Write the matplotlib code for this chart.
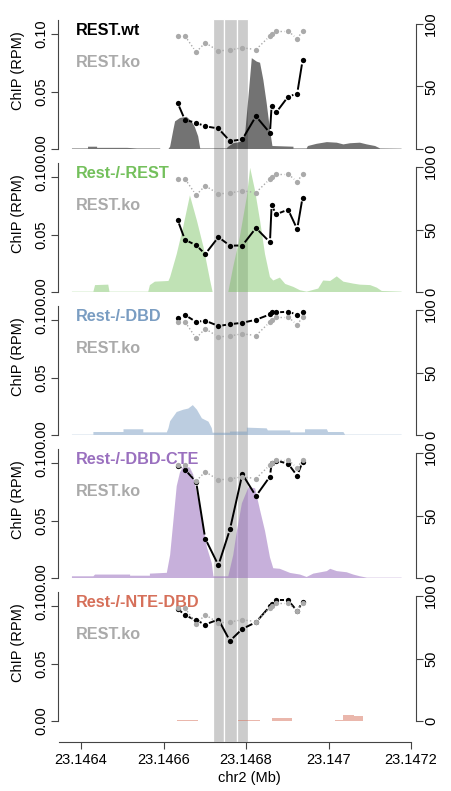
import numpy as np
import matplotlib
matplotlib.use('Agg')
from matplotlib import pyplot as plt

plt.rcParams['font.family'] = ['Liberation Sans', 'DejaVu Sans']

# CpG positions (Mb) and methylation (%) per sample
cpg_pos = [23.146634, 23.146652, 23.146679, 23.146701, 23.146733, 23.146761, 23.146791,
           23.146824, 23.146858, 23.146862, 23.146873, 23.146902, 23.146924, 23.146937]
meth_ko = [90.5, 90.5, 77.5, 85, 78.5, 79.2, 81, 79.5, 90.5, 92, 94.5, 94.5, 88, 94.5]
meth_wt = [37, 23.2, 21, 18.2, 16.4, 6.3, 7.7, 26.2, 12.8, 34.6, 29.2, 41.9, 44.3, 70.8]
meth_rest = [57.8, 41.7, 37.5, 30.3, 43.9, 37.1, 37.2, 51.2, 39.8, 69.5, 62.2, 65.9, 50.3, 75.6]
meth_dbd = [93.8, 96, 90.5, 91.5, 87.2, 88.6, 89.8, 92.2, 96.5, 98.2, 98.1, 98.6, 96.4, 98.1]
meth_dbd_cte = [90, 86.6, 77, 31.6, 10.2, 38.9, 83.1, 65.5, 81.2, 92, 94, 91.4, 81.8, 93]
meth_nte_dbd = [90, 84.6, 80.6, 77.2, 81.2, 64.1, 73.7, 79, 91.8, 93.4, 96.6, 96.6, 88, 95.2]

# highlighted CpG windows (Mb)
band_edges = [23.146719, 23.146747, 23.146778, 23.146804]

# ChIP coverage (bp, RPM)
chip_wt_x = [23146378, 23146417, 23146417, 23146439, 23146439, 23146512, 23146536, 23146592,
             23146592, 23146612, 23146616, 23146624, 23146628, 23146640, 23146656, 23146668,
             23146676, 23146684, 23146689, 23146753, 23146757, 23146769, 23146790, 23146798,
             23146806, 23146814, 23146826, 23146834, 23146842, 23146850, 23146858, 23146864,
             23146915, 23146915, 23146947, 23146950, 23146971, 23146996, 23147020, 23147036,
             23147052, 23147076, 23147093, 23147113, 23147125, 23147177]
chip_wt_y = [0.0005, 0.0005, 0.002, 0.002, 0.001, 0.001, 0.0005, 0.0005,
             0, 0, 0.002, 0.017, 0.024, 0.027, 0.028, 0.024,
             0.019, 0.011, 0.0005, 0.0005, 0.002, 0.005, 0.0064, 0.014,
             0.046, 0.079, 0.076, 0.075, 0.06, 0.040, 0.017, 0.0026,
             0.002, 0.0005, 0.0005, 0.0026, 0.0045, 0.006, 0.0055, 0.004,
             0.005, 0.0055, 0.004, 0.0026, 0.0005, 0.0003]

chip_rest_x = [23146378, 23146430, 23146434, 23146466, 23146469, 23146563, 23146567, 23146579,
               23146612, 23146616, 23146632, 23146648, 23146664, 23146681, 23146697, 23146713,
               23146719, 23146757, 23146769, 23146785, 23146802, 23146810, 23146822, 23146834,
               23146846, 23146858, 23146866, 23146882, 23146895, 23146915, 23146931, 23146947,
               23146975, 23146987, 23147004, 23147020, 23147036, 23147060, 23147076, 23147101,
               23147117, 23147129, 23147177]
chip_rest_y = [0.0003, 0.0003, 0.006, 0.0064, 0.0003, 0.0003, 0.006, 0.009,
               0.0096, 0.013, 0.033, 0.057, 0.084, 0.062, 0.039, 0.010,
               0, 0, 0.022, 0.048, 0.083, 0.108, 0.088, 0.062,
               0.033, 0.013, 0.010, 0.0125, 0.007, 0.0044, 0.0015, 0.0003,
               0.003, 0.010, 0.0096, 0.0136, 0.009, 0.0073, 0.0064, 0.006,
               0.0038, 0.0009, 0.0003]

chip_dbd_x = [23146378, 23146430, 23146430, 23146503, 23146503, 23146551, 23146551, 23146608,
              23146612, 23146616, 23146632, 23146648, 23146660, 23146671, 23146681, 23146693,
              23146709, 23146717, 23146719, 23146761, 23146761, 23146802, 23146802, 23146850,
              23146853, 23146907, 23146907, 23146943, 23146943, 23146996, 23146999, 23147036,
              23147040, 23147177]
chip_dbd_y = [0.0003, 0.0003, 0.0026, 0.0026, 0.005, 0.005, 0.0023, 0.0023,
              0.006, 0.012, 0.020, 0.022, 0.023, 0.026, 0.022, 0.0145,
              0.0116, 0.006, 0.002, 0.002, 0.003, 0.003, 0.0064, 0.0058,
              0.004, 0.004, 0.0023, 0.0023, 0.005, 0.005, 0.0026, 0.0026,
              0.0003, 0.0003]

chip_dbd_cte_x = [23146378, 23146430, 23146434, 23146519, 23146519, 23146567, 23146567, 23146608,
                  23146616, 23146624, 23146632, 23146640, 23146648, 23146664, 23146672, 23146676,
                  23146693, 23146705, 23146717, 23146721, 23146757, 23146769, 23146777, 23146790,
                  23146806, 23146822, 23146834, 23146846, 23146858, 23146866, 23146882, 23146907,
                  23146931, 23146947, 23146963, 23146996, 23147004, 23147020, 23147044, 23147060,
                  23147076, 23147093, 23147177]
chip_dbd_cte_y = [0.0015, 0.0015, 0.003, 0.003, 0.002, 0.002, 0.0038, 0.0045,
                  0.02, 0.05, 0.08, 0.092, 0.097, 0.096, 0.09, 0.082,
                  0.053, 0.027, 0.0128, 0.0015, 0.0015, 0.02, 0.039, 0.065,
                  0.079, 0.078, 0.059, 0.041, 0.018, 0.0085, 0.008, 0.0044,
                  0.003, 0.0009, 0.0038, 0.006, 0.008, 0.006, 0.005, 0.003,
                  0.0015, 0.0003, 0.0003]

chip_nte_dbd_x = [23146378, 23146632, 23146632, 23146684, 23146684, 23146781, 23146781, 23146834,
                  23146834, 23146862, 23146862, 23146912, 23146912, 23147016, 23147016, 23147034,
                  23147034, 23147062, 23147062, 23147084, 23147084, 23147177]
chip_nte_dbd_y = [0.0002, 0.0002, 0.001, 0.001, 0.0002, 0.0002, 0.0008, 0.0008,
                  0.0002, 0.0002, 0.0023, 0.0023, 0.0002, 0.0002, 0.0006, 0.0006,
                  0.0052, 0.0052, 0.0046, 0.0046, 0.0002, 0.0002]

names = ['REST.wt', 'Rest-/-REST', 'Rest-/-DBD', 'Rest-/-DBD-CTE', 'Rest-/-NTE-DBD']
name_colors = ['black', '#74c05c', '#7a9dc2', '#9a70bf', '#d6705a']
fill_colors = ['black', '#74c05c', '#7a9dc2', '#9a70bf', '#d6705a']
fill_alpha = [0.55, 0.45, 0.5, 0.55, 0.5]
chip_x = [chip_wt_x, chip_rest_x, chip_dbd_x, chip_dbd_cte_x, chip_nte_dbd_x]
chip_y = [chip_wt_y, chip_rest_y, chip_dbd_y, chip_dbd_cte_y, chip_nte_dbd_y]
meth = [meth_wt, meth_rest, meth_dbd, meth_dbd_cte, meth_nte_dbd]

W, H = 452, 791
xlim = (23.1463442, 23.147212)
ko_color = '#aaaaaa'
axis_color = '#444444'


def px_box(left, top, right, bottom):
    return [left / W, 1 - bottom / H, (right - left) / W, (bottom - top) / H]


def gapped_line(ax, xs, ys, gap, **kw):
    # line segments that stop short of each point (like R type="b")
    pts = ax.transData.transform(np.column_stack([xs, ys]))
    inv = ax.transData.inverted()
    for p, q in zip(pts[:-1], pts[1:]):
        d = q - p
        n = np.hypot(d[0], d[1])
        if n <= 2 * gap:
            continue
        u = d / n
        seg = inv.transform(np.array([p + u * gap, q - u * gap]))
        ax.plot(seg[:, 0], seg[:, 1], solid_capstyle='butt', **kw)


fig = plt.figure(figsize=(W / 100, H / 100), dpi=100)

# grey windows behind all panels
bg = fig.add_axes(px_box(58, 19, 416, 742))
bg.set_zorder(-1)
bg.axis('off')
bg.set_xlim(xlim)
bg.set_ylim(0, 1)
for lo, hi in zip(band_edges[:-1], band_edges[1:]):
    bg.axvspan(lo, hi, facecolor='#cccccc', edgecolor='white', linewidth=0.9)

for i in range(5):
    base = 149 + 143 * i
    ax = fig.add_axes(px_box(58, base - 129, 416, base + 7))
    ax.set_facecolor('none')
    ax.set_xlim(xlim)
    ax.set_ylim(-7 / 1150, 129 / 1150)
    xs = np.array(chip_x[i]) / 1e6
    ax.fill_between(xs, 0, chip_y[i], facecolor=fill_colors[i], alpha=fill_alpha[i],
                    linewidth=0)

    for s in ['top', 'right']:
        ax.spines[s].set_visible(False)
    ax.spines['left'].set_bounds(0, 0.112)
    ax.spines['left'].set_color(axis_color)
    ax.spines['left'].set_linewidth(0.8)
    ax.set_yticks([0, 0.05, 0.1])
    ax.set_yticklabels(['0.00', '0.05', '0.10'], rotation=90, va='center')
    ax.tick_params(axis='y', direction='out', length=5, width=0.8, color=axis_color,
                   pad=2, labelsize=10.5)

    if i < 4:
        ax.spines['bottom'].set_visible(False)
        ax.set_xticks([])
    else:
        ax.spines['bottom'].set_position(('outward', 10))
        ax.spines['bottom'].set_bounds(23.1463474, 23.1472)
        ax.spines['bottom'].set_color(axis_color)
        ax.spines['bottom'].set_linewidth(0.8)
        ax.set_xticks([23.1464, 23.1466, 23.1468, 23.147, 23.1472])
        ax.set_xticklabels(['23.1464', '23.1466', '23.1468', '23.147', '23.1472'])
        ax.tick_params(axis='x', direction='out', length=5, width=0.8, color=axis_color,
                       pad=3, labelsize=10.5)

    ax2 = ax.twinx()
    ax2.set_xlim(xlim)
    ax2.set_ylim(-5.6, 103.2)
    for s in ['top', 'left', 'bottom']:
        ax2.spines[s].set_visible(False)
    ax2.spines['right'].set_bounds(0, 100)
    ax2.spines['right'].set_color(axis_color)
    ax2.spines['right'].set_linewidth(0.8)
    ax2.set_yticks([0, 50, 100])
    ax2.set_yticklabels(['0', '50', '100'], rotation=90, va='center')
    ax2.tick_params(axis='y', direction='out', length=5, width=0.8, color=axis_color,
                    pad=1, labelsize=10.5)

    gapped_line(ax2, cpg_pos, meth[i], 4, color='black', lw=1.4)
    gapped_line(ax2, cpg_pos, meth_ko, 4, color=ko_color, lw=1.0, linestyle=(0, (1, 1.6)))
    ax2.plot(cpg_pos, meth[i], 'o', color='black', markersize=3.8, markeredgewidth=0)
    ax2.plot(cpg_pos, meth_ko, 'o', color=ko_color, markersize=3.8, markeredgewidth=0)

    ax.text(0.049, (7 + 114) / 136, names[i], transform=ax.transAxes, color=name_colors[i],
            fontsize=11.7, fontweight='bold', va='baseline', ha='left')
    ax.text(0.049, (7 + 82) / 136, 'REST.ko', transform=ax.transAxes, color=ko_color,
            fontsize=11.7, fontweight='bold', va='baseline', ha='left')

    fig.text(18 / W, 1 - (base - 78) / H, 'ChIP (RPM)', rotation=90, fontsize=10.5,
             ha='center', va='center')

fig.text(249 / W, 1 - 778 / H, 'chr2 (Mb)', fontsize=10.5, ha='center', va='center')

fig.savefig('out.png', dpi=100)
